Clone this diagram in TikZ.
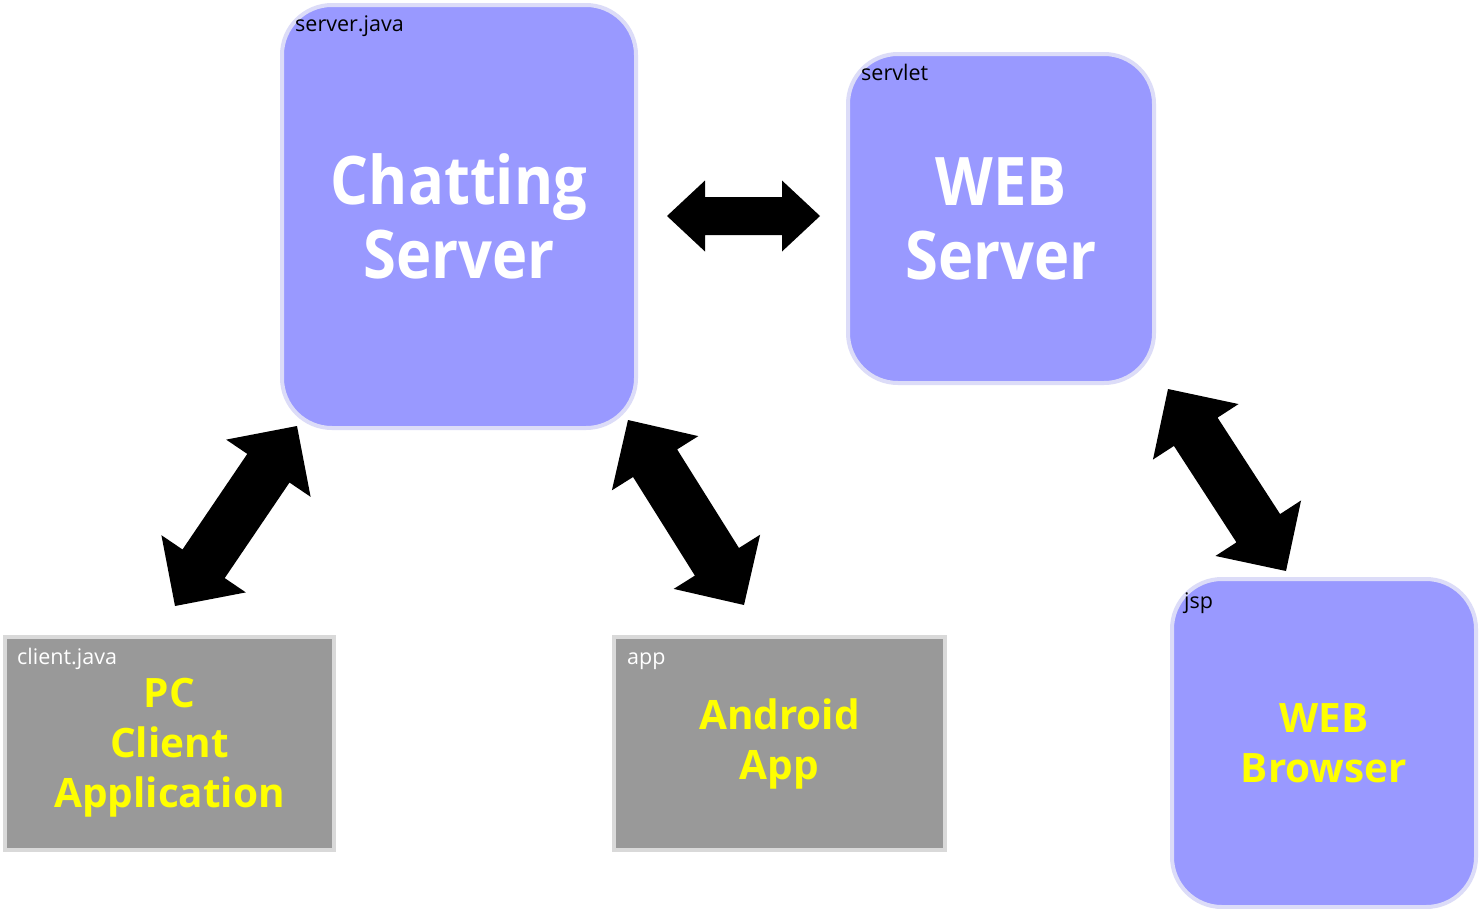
\documentclass[tikz,border=0pt]{standalone}
\usepackage{fontspec}
\setmainfont{Open Sans}
\newfontfamily\narrowsans{Open Sans}[FakeStretch=0.89]
\usetikzlibrary{calc}
\definecolor{boxblue}{HTML}{9999FF}
\definecolor{boxblueline}{HTML}{DCDCF8}
\definecolor{boxgray}{HTML}{999999}
\definecolor{boxgrayline}{HTML}{D9D9D9}
\definecolor{txtyellow}{HTML}{FFFF00}
% double block arrow: #1,#2 tips, #3 head length, #4 half head width, #5 half shaft width
\newcommand{\dblblock}[5]{%
  \fill[black] (#1)
    -- ($(#1)!#3!(#2)!#4!90:(#2)$) -- ($(#1)!#3!(#2)!#5!90:(#2)$)
    -- ($(#2)!#3!(#1)!#5!-90:(#1)$) -- ($(#2)!#3!(#1)!#4!-90:(#1)$)
    -- (#2)
    -- ($(#2)!#3!(#1)!#4!90:(#1)$) -- ($(#2)!#3!(#1)!#5!90:(#1)$)
    -- ($(#1)!#3!(#2)!#5!-90:(#2)$) -- ($(#1)!#3!(#2)!#4!-90:(#2)$)
    -- cycle;}
\begin{document}
\begin{tikzpicture}[x=1pt,y=-1pt,
  bluebox/.style={draw=boxblueline, line width=4pt, fill=boxblue, rounded corners=50pt,
    inner sep=0pt, align=center, anchor=north west},
  graybox/.style={draw=boxgrayline, line width=4pt, fill=boxgray,
    inner sep=0pt, align=center, anchor=north west},
  bigwhite/.style={font=\narrowsans\fontsize{67}{74}\selectfont\bfseries, text=white},
  bigyellow/.style={font=\fontsize{40.5}{50}\selectfont\bfseries, text=txtyellow},
  tagtext/.style={font=\fontsize{21.5}{24}\selectfont, anchor=base west, inner sep=0pt}]
\useasboundingbox (0,0) rectangle (1479,908);
\fill[white] (0,0) rectangle (1479,908);

\node[bluebox, bigwhite, minimum width=354, minimum height=423] (chat) at (280,3) {Chatting\\Server};
\node[bluebox, bigwhite, minimum width=306, minimum height=329] (web) at (846,52) {WEB\\Server};
\node[bluebox, bigyellow, minimum width=304, minimum height=328] (browser) at (1170,577) {WEB\\Browser};
\node[graybox, minimum width=329, minimum height=213] (pc) at (3,635) {};
\node[graybox, minimum width=331, minimum height=213] (android) at (612,635) {};
\node[bigyellow, align=center, inner sep=0pt] (pctext) at ($(pc.center)+(0,4)$) {PC\\Client\\Application};
\node[bigyellow, align=center, inner sep=0pt] (androidtext) at (android.center) {Android\\App};

\node[tagtext, text=black] (chattag) at (295,31) {server.java};
\node[tagtext, text=black] (webtag) at (861,80) {servlet};
\node[tagtext, text=black] (browsertag) at (1184,608) {jsp};
\node[tagtext, text=white] (pctag) at (17,664) {client.java};
\node[tagtext, text=white] (androidtag) at (627,664) {app};

\coordinate (d1) at (667,216);
\coordinate (d2) at (820,216);
\coordinate (a1) at (175,606);
\coordinate (a2) at (297,426);
\coordinate (b1) at (628,420);
\coordinate (b2) at (744,605);
\coordinate (c1) at (1168,389);
\coordinate (c2) at (1286,571);

\dblblock{d1}{d2}{38pt}{35.5pt}{19pt}
\dblblock{a1}{a2}{51pt}{51pt}{25.5pt}
\dblblock{b1}{b2}{51pt}{51pt}{26pt}
\dblblock{c1}{c2}{51pt}{51pt}{26pt}
\end{tikzpicture}
\end{document}
